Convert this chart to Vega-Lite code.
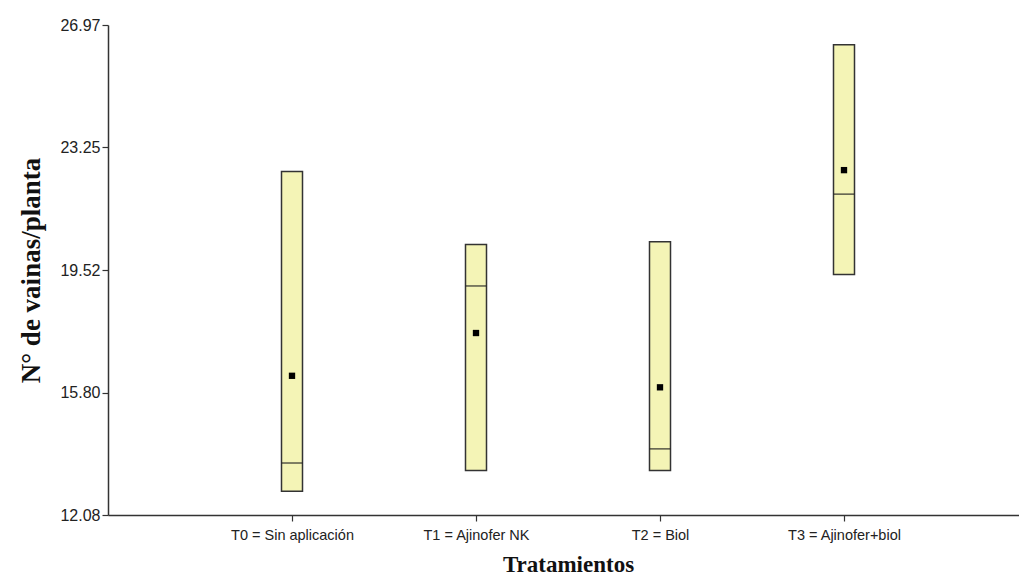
{
  "$schema": "https://vega.github.io/schema/vega-lite/v6.json",
  "autosize": "none",
  "width": 911,
  "height": 490,
  "padding": {"left": 108, "top": 25, "right": 0, "bottom": 62},
  "background": "white",
  "config": {"view": {"stroke": null}},
  "data": {"values": [
    {"trat": "T0 = Sin aplicación", "min": 12.80, "max": 22.52, "median": 13.66, "mean": 16.31},
    {"trat": "T1 = Ajinofer NK", "min": 13.43, "max": 20.30, "median": 19.04, "mean": 17.61},
    {"trat": "T2 = Biol", "min": 13.43, "max": 20.38, "median": 14.09, "mean": 15.96},
    {"trat": "T3 = Ajinofer+biol", "min": 19.39, "max": 26.37, "median": 21.83, "mean": 22.56}
  ]},
  "encoding": {
    "x": {
      "field": "trat", "type": "nominal", "sort": null,
      "scale": {"type": "point", "range": [0, 920], "padding": 1},
      "axis": {
        "title": "Tratamientos", "labelAngle": 0,
        "labelFont": "Liberation Sans", "labelFontSize": 14.5, "labelColor": "#222",
        "labelPadding": 7, "tickSize": 6, "tickColor": "#333", "domainColor": "#333",
        "domainWidth": 1.5, "tickWidth": 1.2,
        "titleFont": "Liberation Serif", "titleFontSize": 23, "titleFontWeight": "bold",
        "titleColor": "#111", "titlePadding": 12, "grid": false
      }
    }
  },
  "layer": [
    {
      "mark": {"type": "bar", "width": 21, "fill": "#f4f4b6", "stroke": "#333", "strokeWidth": 1.5},
      "encoding": {
        "y": {
          "field": "min", "type": "quantitative",
          "scale": {"domain": [12.08, 26.97], "nice": false, "zero": false},
          "axis": {
            "title": "N° de vainas/planta", "values": [12.08, 15.80, 19.52, 23.25, 26.97],
            "format": ".2f", "labelFont": "Liberation Sans", "labelFontSize": 16,
            "labelColor": "#222", "tickSize": 6, "tickColor": "#333", "domainColor": "#333",
            "domainWidth": 1.5, "tickWidth": 1.2, "labelPadding": 2,
            "titleFont": "Liberation Serif", "titleFontSize": 27, "titleFontWeight": "bold",
            "titleColor": "#111", "titlePadding": 14, "grid": false
          }
        },
        "y2": {"field": "max"}
      }
    },
    {
      "mark": {"type": "tick", "size": 21, "thickness": 1.6, "color": "#222", "orient": "horizontal"},
      "encoding": {"y": {"field": "median", "type": "quantitative"}}
    },
    {
      "mark": {"type": "point", "shape": "square", "filled": true, "color": "#000", "size": 40, "opacity": 1},
      "encoding": {"y": {"field": "mean", "type": "quantitative"}}
    }
  ]
}
